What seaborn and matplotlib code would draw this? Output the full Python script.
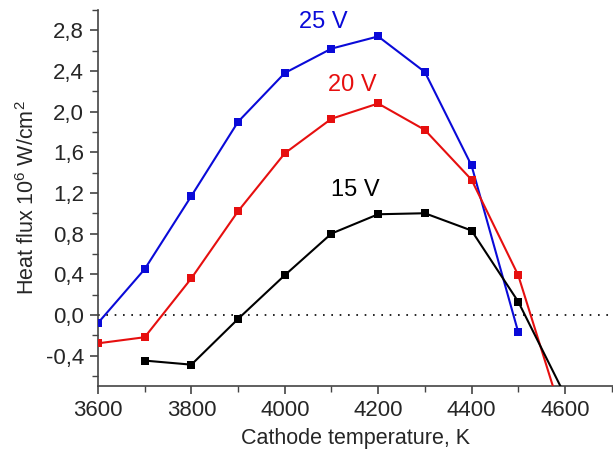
import matplotlib
matplotlib.use("Agg")
import matplotlib.pyplot as plt
import seaborn as sns
import pandas as pd
from matplotlib.ticker import MultipleLocator, FuncFormatter

# Data
temp_25 = [3600, 3700, 3800, 3900, 4000, 4100, 4200, 4300, 4400, 4500]
flux_25 = [-0.08, 0.45, 1.17, 1.90, 2.38, 2.62, 2.74, 2.39, 1.47, -0.17]
temp_20 = [3600, 3700, 3800, 3900, 4000, 4100, 4200, 4300, 4400, 4500, 4600]
flux_20 = [-0.28, -0.22, 0.36, 1.02, 1.59, 1.93, 2.08, 1.82, 1.33, 0.39, -1.08]
temp_15 = [3700, 3800, 3900, 4000, 4100, 4200, 4300, 4400, 4500, 4600]
flux_15 = [-0.45, -0.49, -0.04, 0.39, 0.80, 0.99, 1.00, 0.83, 0.13, -0.79]
series_labels = ["25 V", "20 V", "15 V"]
series_colors = ["#0a0ad8", "#e60f0f", "#000000"]

df = pd.concat([
    pd.DataFrame({"T": temp_25, "q": flux_25, "U": "25 V"}),
    pd.DataFrame({"T": temp_20, "q": flux_20, "U": "20 V"}),
    pd.DataFrame({"T": temp_15, "q": flux_15, "U": "15 V"}),
])

sns.set_style("ticks")
plt.rcParams['font.family'] = ['Liberation Sans', 'DejaVu Sans']
plt.rcParams['mathtext.fontset'] = 'custom'
plt.rcParams['mathtext.rm'] = 'Liberation Sans'
plt.rcParams['mathtext.it'] = 'Liberation Sans'
plt.rcParams['mathtext.bf'] = 'Liberation Sans'

fig = plt.figure(figsize=(6.13, 4.5), dpi=100)
ax = fig.add_axes([98 / 613, (450 - 386) / 450, (613 - 98) / 613, (386 - 10) / 450])

ax.axhline(0, color="black", linestyle=(0, (1, 4)), linewidth=1.2, zorder=1)

sns.lineplot(data=df, x="T", y="q", hue="U", hue_order=series_labels,
             palette=dict(zip(series_labels, series_colors)),
             marker="s", markersize=6, markeredgewidth=0, linewidth=1.5,
             legend=False, ax=ax, zorder=3, sort=True)

ax.set_xlim(3600, 4703)
ax.set_ylim(-0.7, 3.0)
ax.xaxis.set_major_locator(MultipleLocator(200))
ax.xaxis.set_minor_locator(MultipleLocator(100))
ax.yaxis.set_major_locator(MultipleLocator(0.4))
ax.yaxis.set_minor_locator(MultipleLocator(0.2))
ax.yaxis.set_major_formatter(FuncFormatter(lambda v, p: f"{v:.1f}".replace(".", ",").replace("-0,0", "0,0")))

for s in ["top", "right"]:
    ax.spines[s].set_visible(False)
for s in ["left", "bottom"]:
    ax.spines[s].set_color("#444444")
    ax.spines[s].set_linewidth(1.2)
ax.tick_params(which="major", direction="out", length=6, width=1.2, color="#444444", labelsize=16, pad=4)
ax.tick_params(which="minor", direction="out", length=4, width=1.0, color="#444444")

ax.set_xlabel("Cathode temperature, K", fontsize=15.5, labelpad=5)
ax.set_ylabel("Heat flux 10$^6$ W/cm$^2$", fontsize=15.5, labelpad=5)

ax.text(4082, 2.88, "25 V", color=series_colors[0], fontsize=17, ha="center", va="center")
ax.text(4145, 2.26, "20 V", color=series_colors[1], fontsize=17, ha="center", va="center")
ax.text(4152, 1.23, "15 V", color=series_colors[2], fontsize=17, ha="center", va="center")

fig.savefig("out.png", dpi=100)
